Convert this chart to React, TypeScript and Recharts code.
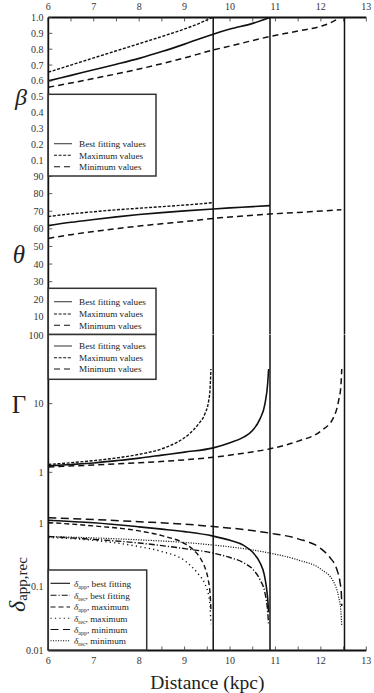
import React from 'react';
import { LineChart, Line, XAxis, YAxis, ReferenceLine } from 'recharts';

const FONT = '"Liberation Serif", "Times New Roman", "DejaVu Serif", serif';
const INK = '#111';

// ---- distance axis ----
const distanceTicks = [6, 6.5, 7, 7.5, 8, 8.5, 9, 9.5, 10, 10.5, 11, 11.5, 12, 12.5, 13];
const limitDistances = [9.63, 10.88, 12.52];

// ---- beta panel ----
const betaTicks = [0, 0.1, 0.2, 0.3, 0.4, 0.5, 0.6, 0.7, 0.8, 0.9, 1.0];
const betaBest = [[6, 0.6], [6.5, 0.635], [7, 0.67], [7.5, 0.705], [8, 0.742], [8.5, 0.785], [9, 0.832], [9.63, 0.895], [10, 0.927], [10.5, 0.963], [10.88, 1.0]];
const betaMax = [[6, 0.655], [6.5, 0.7], [7, 0.745], [7.5, 0.79], [8, 0.835], [8.5, 0.88], [9, 0.928], [9.3, 0.96], [9.6, 1.0]];
const betaMin = [[6, 0.56], [7, 0.615], [8, 0.675], [9, 0.745], [9.63, 0.795], [10, 0.82], [10.88, 0.88], [11.5, 0.915], [12, 0.945], [12.2, 0.965], [12.42, 1.0]];

// ---- theta panel ----
const thetaTicks = [0, 10, 20, 30, 40, 50, 60, 70, 80, 90];
const thetaBest = [[6, 61.8], [6.5, 63.7], [7, 65.3], [7.5, 66.8], [8, 68.1], [8.5, 69.2], [9, 70.2], [9.63, 71.3], [10, 71.9], [10.5, 72.6], [10.88, 73.2]];
const thetaMax = [[6, 67.0], [6.5, 68.5], [7, 69.7], [7.5, 70.8], [8, 71.7], [8.5, 72.6], [9, 73.5], [9.6, 74.8]];
const thetaMin = [[6, 54.6], [6.5, 56.7], [7, 58.5], [7.5, 60.1], [8, 61.6], [8.5, 62.9], [9, 64.1], [9.63, 65.9], [10, 66.7], [10.88, 68.4], [11.5, 69.3], [12, 70.1], [12.45, 70.8]];

// ---- Gamma panel ----
const gammaTicks = [1, 10, 100];
const gammaMinorTicks = [0.6, 0.7, 0.8, 0.9, 1, 2, 3, 4, 5, 6, 7, 8, 9, 10, 20, 30, 40, 50, 60, 70, 80, 90, 100];
const gammaBest = [[6, 1.24], [6.5, 1.3], [7, 1.37], [7.5, 1.48], [8, 1.61], [8.5, 1.78], [9, 1.97], [9.63, 2.27], [10, 2.7], [10.3, 3.25], [10.5, 4.1], [10.66, 6.0], [10.77, 10], [10.83, 20], [10.85, 32]];
const gammaMax = [[6, 1.3], [6.5, 1.38], [7, 1.48], [7.5, 1.62], [8, 1.83], [8.5, 2.2], [8.86, 2.8], [9.1, 3.6], [9.3, 5.0], [9.45, 7.2], [9.53, 11], [9.56, 16], [9.58, 32]];
const gammaMin = [[6, 1.2], [7, 1.28], [8, 1.38], [9, 1.52], [9.63, 1.66], [10.3, 1.9], [10.88, 2.2], [11.5, 2.85], [12, 4.0], [12.28, 6.3], [12.39, 11], [12.44, 18], [12.46, 32]];

// ---- Doppler factor panel ----
const deltaTicks = [0.01, 0.1, 1];
const deltaMinorTicks = [0.02, 0.03, 0.04, 0.05, 0.06, 0.07, 0.08, 0.09, 0.1, 0.2, 0.3, 0.4, 0.5, 0.6, 0.7, 0.8, 0.9, 1, 2, 3];
const deltaAppBest = [[6, 1.12], [7, 1.02], [8, 0.88], [8.5, 0.81], [9, 0.74], [9.63, 0.63], [10, 0.54], [10.3, 0.45], [10.5, 0.35], [10.66, 0.24], [10.75, 0.16], [10.8, 0.1], [10.83, 0.065], [10.85, 0.04]];
const deltaRecBest = [[6, 0.62], [7, 0.56], [8, 0.49], [9, 0.4], [9.63, 0.34], [10, 0.29], [10.3, 0.24], [10.5, 0.19], [10.66, 0.13], [10.77, 0.08], [10.83, 0.04], [10.85, 0.025]];
const deltaAppMax = [[6, 1.03], [7, 0.91], [8, 0.76], [8.5, 0.64], [9, 0.48], [9.2, 0.38], [9.35, 0.28], [9.45, 0.2], [9.52, 0.13], [9.56, 0.08], [9.58, 0.045]];
const deltaRecMax = [[6, 0.6], [7, 0.54], [8, 0.43], [8.5, 0.36], [9, 0.26], [9.3, 0.16], [9.45, 0.11], [9.53, 0.072], [9.56, 0.05], [9.58, 0.026]];
const deltaAppMin = [[6, 1.22], [7, 1.15], [8, 1.06], [9, 0.97], [9.63, 0.89], [10.3, 0.8], [10.88, 0.7], [11.5, 0.57], [12, 0.4], [12.2, 0.29], [12.35, 0.19], [12.42, 0.12], [12.45, 0.08], [12.46, 0.05]];
const deltaRecMin = [[6, 0.62], [7, 0.59], [8, 0.55], [9, 0.5], [9.63, 0.455], [10.3, 0.4], [10.88, 0.34], [11.5, 0.265], [12, 0.19], [12.28, 0.12], [12.39, 0.07], [12.44, 0.042], [12.46, 0.024]];

// ---- legend labels ----
const fitLegendLabels = ['Best fitting values', 'Maximum values', 'Minimum values'];
const deltaLegendLabels = [
  ['app', ', best fitting'],
  ['rec', ', best fitting'],
  ['app', ', maximum'],
  ['rec', ', maximum'],
  ['app', ', minimum'],
  ['rec', ', minimum'],
];

// ---- styles ----
const DASH_MAX = '3 1.6';
const DASH_MIN = '6 4';
const D_APP_BEST = undefined;
const D_REC_BEST = '6 2 1.2 2';
const D_APP_MAX = '5 3';
const D_REC_MAX = '1.2 3.2';
const D_APP_MIN = '8 4.5';
const D_REC_MIN = '1.1 1.4';

type Series = { data: number[][]; dash?: string; width?: number };

const toPts = (pairs: number[][]) => pairs.map(([x, y]) => ({ x, y }));
const intFmt = (v: number) => (Number.isInteger(v) ? String(v) : '');
const blank = () => '';

const tickStyle = { fontSize: 10, fill: '#333', fontFamily: FONT };
const axisLineStyle = { stroke: INK, strokeWidth: 1.8 };
const tickLineStyle = { stroke: '#333', strokeWidth: 0.8 };

function Panel(props: {
  top: number;
  height: number;
  topAxisH?: number;
  bottomAxisH?: number;
  bottomLabels?: boolean;
  domain: [number, number];
  log?: boolean;
  ticks: number[];
  minorTicks: number[];
  fmt: (v: number) => string;
  series: Series[];
}) {
  const { top, height, topAxisH = 0, bottomAxisH = 0, bottomLabels = false, domain, log = false, ticks, minorTicks, fmt, series } = props;
  const scale = log ? 'log' : 'linear';
  return (
    <div style={{ position: 'absolute', left: 0, top }}>
      <LineChart width={374} height={height} margin={{ top: 0, right: 7.7, bottom: 0, left: 0 }}>
        {topAxisH > 0 && (
          <XAxis
            xAxisId="t"
            orientation="top"
            type="number"
            dataKey="x"
            domain={[6, 13]}
            ticks={distanceTicks}
            allowDataOverflow
            height={topAxisH}
            tickSize={-4}
            tickMargin={11.5}
            tickFormatter={intFmt}
            tick={tickStyle}
            axisLine={axisLineStyle}
            tickLine={tickLineStyle}
          />
        )}
        <XAxis
          xAxisId="b"
          orientation="bottom"
          type="number"
          dataKey="x"
          domain={[6, 13]}
          ticks={distanceTicks}
          allowDataOverflow
          height={bottomAxisH}
          tickSize={-4}
          tickMargin={bottomLabels ? 10 : 0}
          tickFormatter={bottomLabels ? intFmt : blank}
          tick={tickStyle}
          axisLine={axisLineStyle}
          tickLine={tickLineStyle}
        />
        <YAxis
          yAxisId="l"
          orientation="left"
          type="number"
          scale={scale}
          domain={domain}
          ticks={ticks}
          allowDataOverflow
          width={48.3}
          tickSize={-4}
          tickMargin={8.8}
          tickFormatter={fmt}
          tick={tickStyle}
          axisLine={axisLineStyle}
          tickLine={tickLineStyle}
          interval={0}
        />
        <YAxis
          yAxisId="r"
          orientation="right"
          type="number"
          scale={scale}
          domain={domain}
          ticks={minorTicks}
          allowDataOverflow
          width={0}
          tickSize={-3}
          tickFormatter={blank}
          tick={tickStyle}
          axisLine={axisLineStyle}
          tickLine={tickLineStyle}
          interval={0}
        />
        {limitDistances.map((d) => (
          <ReferenceLine key={d} x={d} xAxisId="b" yAxisId="l" stroke={INK} strokeWidth={1.5} />
        ))}
        {series.map((s, i) => (
          <Line
            key={i}
            data={toPts(s.data)}
            dataKey="y"
            xAxisId="b"
            yAxisId="l"
            type="monotone"
            stroke={INK}
            strokeWidth={s.width ?? 1.4}
            strokeDasharray={s.dash}
            dot={false}
            activeDot={false}
            isAnimationActive={false}
          />
        ))}
      </LineChart>
    </div>
  );
}

function FitLegend({ y, h, rowYs }: { y: number; h: number; rowYs: number[] }) {
  const dashes = [undefined, DASH_MAX, DASH_MIN];
  return (
    <g>
      <rect x={48.3} y={y} width={107.7} height={h} fill="#fff" stroke="#333" strokeWidth={1.5} />
      {fitLegendLabels.map((lab, i) => (
        <g key={lab}>
          <line x1={54} x2={72} y1={rowYs[i]} y2={rowYs[i]} stroke={i === 0 ? '#444' : INK} strokeWidth={1.1} strokeDasharray={dashes[i]} />
          <text x={79} y={rowYs[i] + 3.3} fontSize={9.2} fontFamily={FONT} fill="#222">
            {lab}
          </text>
        </g>
      ))}
    </g>
  );
}

function DeltaLegend() {
  const dashes = [D_APP_BEST, D_REC_BEST, D_APP_MAX, D_REC_MAX, D_APP_MIN, D_REC_MIN];
  const rowYs = [583.3, 595.3, 607, 618.3, 629.5, 640.7];
  return (
    <g>
      <rect x={48.3} y={570} width={98.4} height={80} fill="#fff" stroke="#333" strokeWidth={1.5} />
      {deltaLegendLabels.map(([sub, rest], i) => (
        <g key={i}>
          <line x1={50.5} x2={70} y1={rowYs[i]} y2={rowYs[i]} stroke={INK} strokeWidth={1.1} strokeDasharray={dashes[i]} />
          <text x={74} y={rowYs[i] + 3.3} fontSize={9.2} fontFamily={FONT} fill="#222">
            <tspan fontStyle="italic">δ</tspan>
            <tspan fontSize={6} dy={2}>{sub}</tspan>
            <tspan dy={-2}>{rest}</tspan>
          </text>
        </g>
      ))}
    </g>
  );
}

export default function App() {
  return (
    <div style={{ position: 'absolute', left: 0, top: 0, width: 374, height: 693, background: '#fff', fontFamily: FONT }}>
      <style>{'.recharts-surface{overflow:visible}'}</style>
      <Panel
        top={0}
        height={176}
        topAxisH={17.5}
        domain={[0, 1]}
        ticks={betaTicks}
        minorTicks={betaTicks}
        fmt={(v) => (v === 0 ? '' : v.toFixed(1))}
        series={[
          { data: betaBest, width: 1.6 },
          { data: betaMax, dash: DASH_MAX },
          { data: betaMin, dash: DASH_MIN, width: 1.5 },
        ]}
      />
      <Panel
        top={176}
        height={158.5}
        domain={[0, 90]}
        ticks={thetaTicks}
        minorTicks={thetaTicks}
        fmt={(v) => (v === 0 ? '' : String(v))}
        series={[
          { data: thetaBest, width: 1.6 },
          { data: thetaMax, dash: DASH_MAX },
          { data: thetaMin, dash: DASH_MIN, width: 1.5 },
        ]}
      />
      <Panel
        top={334.5}
        height={158}
        domain={[0.5, 100]}
        log
        ticks={gammaTicks}
        minorTicks={gammaMinorTicks}
        fmt={(v) => String(v)}
        series={[
          { data: gammaBest, width: 1.6 },
          { data: gammaMax, dash: DASH_MAX },
          { data: gammaMin, dash: DASH_MIN, width: 1.5 },
        ]}
      />
      <Panel
        top={492.5}
        height={200.5}
        bottomAxisH={43}
        bottomLabels
        domain={[0.01, 3]}
        log
        ticks={deltaTicks}
        minorTicks={deltaMinorTicks}
        fmt={(v) => String(v)}
        series={[
          { data: deltaAppBest, dash: D_APP_BEST, width: 1.6 },
          { data: deltaRecBest, dash: D_REC_BEST },
          { data: deltaAppMax, dash: D_APP_MAX },
          { data: deltaRecMax, dash: D_REC_MAX },
          { data: deltaAppMin, dash: D_APP_MIN, width: 1.5 },
          { data: deltaRecMin, dash: D_REC_MIN, width: 1.2 },
        ]}
      />
      <svg width={374} height={693} style={{ position: 'absolute', left: 0, top: 0, pointerEvents: 'none' }}>
        <FitLegend y={94.3} h={81.7} rowYs={[143.7, 155.3, 166.7]} />
        <FitLegend y={288.3} h={46.2} rowYs={[301.7, 314, 325.3]} />
        <FitLegend y={334.5} h={44.8} rowYs={[346, 357.7, 369]} />
        <DeltaLegend />
        <text x={21} y={105} textAnchor="middle" fontSize={24} fontStyle="italic" fontFamily={FONT} fill="#222">
          β
        </text>
        <text x={19} y={263} textAnchor="middle" fontSize={25} fontStyle="italic" fontFamily={FONT} fill="#222">
          θ
        </text>
        <text x={19} y={413} textAnchor="middle" fontSize={25} fontFamily={FONT} fill="#222">
          Γ
        </text>
        <text x={25} y={612} transform="rotate(-90 25 612)" fontSize={24} fontFamily={FONT} fill="#222">
          <tspan fontStyle="italic">δ</tspan>
          <tspan fontSize={15} dy={2}>app,rec</tspan>
        </text>
        <text x={207.3} y={689} textAnchor="middle" fontSize={19.5} fontFamily={FONT} fill="#222">
          Distance (kpc)
        </text>
      </svg>
    </div>
  );
}
